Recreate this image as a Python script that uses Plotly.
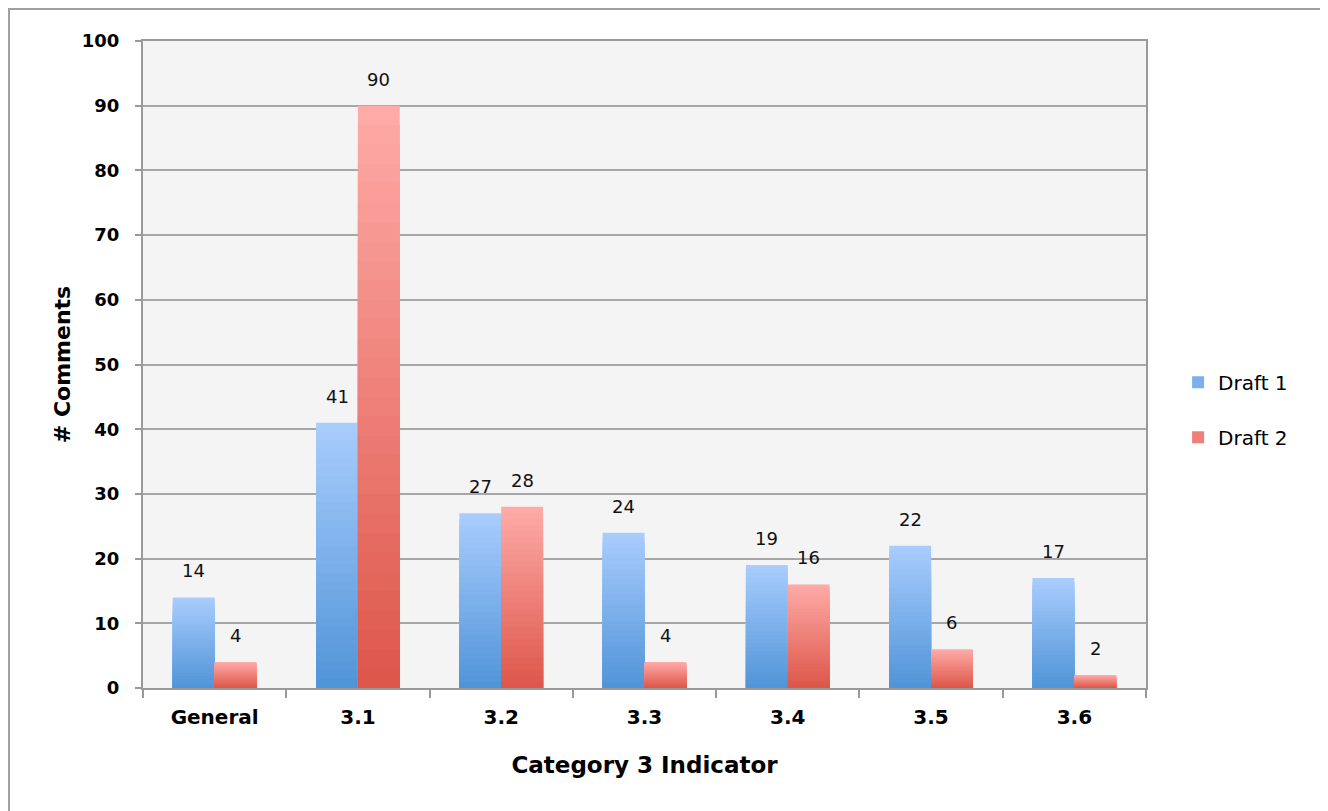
import plotly.graph_objects as go

categories = ["General", "3.1", "3.2", "3.3", "3.4", "3.5", "3.6"]
draft1 = [14, 41, 27, 24, 19, 22, 17]
draft2 = [4, 90, 28, 4, 16, 6, 2]
series_names = ["Draft 1", "Draft 2"]
y_ticks = list(range(0, 101, 10))

FONT = "DejaVu Sans, sans-serif"
N = 30
BAR_W = 0.292

def lerp(c1, c2, t):
    return "rgb(%d,%d,%d)" % tuple(round(a + (b - a) * t) for a, b in zip(c1, c2))

grads = [((79, 148, 216), (170, 205, 253)), ((220, 86, 73), (255, 171, 168))]
offsets = [-BAR_W, 0.0]

fig = go.Figure()
for s, (vals, name) in enumerate(zip([draft1, draft2], series_names)):
    bottom, top = grads[s]
    for k in range(N):
        frac = (N - k) / N
        fig.add_trace(go.Bar(
            x=categories,
            y=[v * frac for v in vals],
            base=0,
            width=BAR_W,
            offset=offsets[s],
            marker=dict(color=lerp(bottom, top, (N - k - 0.5) / N), line=dict(width=0)),
            showlegend=False,
            hoverinfo="skip",
        ))
    # legend entry
    fig.add_trace(go.Bar(
        x=[None], y=[None], name=name,
        marker=dict(color=lerp(bottom, top, 0.5), line=dict(width=0)),
        legendgroup=name,
    ))
    for i, v in enumerate(vals):
        fig.add_annotation(
            x=i + offsets[s] + BAR_W / 2, y=v, text=str(v),
            showarrow=False, yanchor="bottom", yshift=14,
            font=dict(family=FONT, size=18, color="#111"),
        )

fig.add_shape(type="rect", xref="paper", yref="paper",
              x0=-0.1336, x1=1.1795, y0=-0.25, y1=1.0495,
              line=dict(color="#a0a0a0", width=2), layer="below")

fig.update_layout(
    width=1328, height=811,
    margin=dict(l=135, r=190, t=33, b=131),
    barmode="overlay",
    paper_bgcolor="white",
    plot_bgcolor="#f4f4f4",
    font=dict(family=FONT, color="black"),
    legend=dict(x=1.032, y=0.43, xanchor="left", yanchor="middle",
                font=dict(family=FONT, size=20), tracegroupgap=26,
                itemwidth=30, bgcolor="rgba(0,0,0,0)"),
    xaxis=dict(
        type="category", categoryorder="array", categoryarray=categories,
        range=[-0.5, len(categories) - 0.5],
        showline=True, linecolor="#999999", linewidth=2, mirror=True,
        ticks="outside", tickson="boundaries", ticklen=8, tickwidth=2, tickcolor="#999999",
        ticklabelstandoff=10,
        tickfont=dict(family=FONT, size=20, color="black", weight="bold"),
        title=dict(text="<b>Category 3 Indicator</b>", font=dict(family=FONT, size=23), standoff=29),
        showgrid=False,
    ),
    yaxis=dict(
        range=[0, 100], tickvals=y_ticks,
        showline=True, linecolor="#999999", linewidth=2, mirror=True,
        ticks="outside", ticklen=6, tickwidth=2, tickcolor="#999999",
        ticklabelstandoff=12,
        gridcolor="#a6a6a6", gridwidth=2,
        tickfont=dict(family=FONT, size=18, color="black", weight="bold"),
        title=dict(text="<b># Comments</b>", font=dict(family=FONT, size=22), standoff=5),
        zeroline=False,
    ),
)

fig.write_html("out.html")
